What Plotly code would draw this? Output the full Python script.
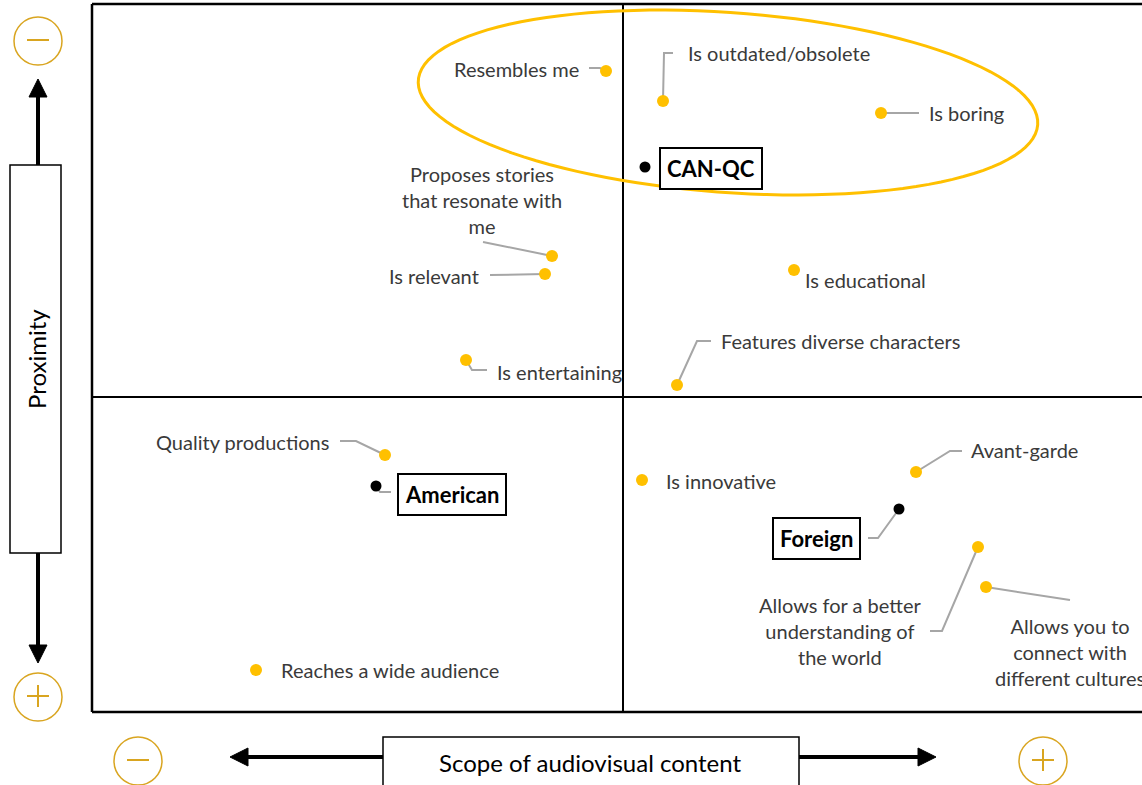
import numpy as np
import plotly.graph_objects as go

# attribute positions on the perceptual map (x: scope, y: proximity)
attributes = ["Resembles me", "Is outdated/obsolete", "Is boring",
              "Proposes stories<br>that resonate with<br>me", "Is relevant",
              "Is educational", "Is entertaining", "Features diverse characters",
              "Quality productions", "Is innovative", "Avant-garde",
              "Allows for a better<br>understanding of<br>the world",
              "Allows you to<br>connect with<br>different cultures",
              "Reaches a wide audience"]
attr_x = [-0.17, 0.40, 2.58, -0.71, -0.78, 1.71, -1.57, 0.54,
          -2.38, 0.19, 2.93, 3.55, 3.63, -3.67]
attr_y = [3.26, 2.96, 2.84, 1.41, 1.23, 1.27, 0.37, 0.12,
          -0.58, -0.83, -0.75, -1.50, -1.90, -2.73]

brands = ["CAN-QC", "American", "Foreign"]
brand_x = [0.22, -2.47, 2.76]
brand_y = [2.30, -0.89, -1.12]

# label placement (pixel offsets from the dot) and leader-line elbows
attr_label = [(-25, -2, "right"), (23, -48, "left"), (46, 0, "left"),
              (-70, -56, "center"), (-64, 2, "right"), (9, 10, "left"),
              (29, 12, "left"), (42, -44, "left"), (-54, -13, "right"),
              (22, 1, "left"), (53, -22, "left"), (-138, 84, "center"),
              (84, 65, "center"), (23, 0, "left")]
attr_leader = [[(-6, -3), (-17, -3)], [(1, -48), (10, -48)], [(38, 0)],
               [(-69, -14)], [(-55, 1)], [], [(6, 10), (21, 10)],
               [(20, -44), (34, -44)], [(-29, -14), (-45, -14)], [],
               [(34, -21), (46, -21)], [(-36, 84), (-48, 84)], [(84, 13)], []]
brand_label = [(66, 1), (76, 8), (-83, 29)]
brand_leader = [[], [(4, 6), (15, 6)], [(-21, 29), (-31, 29)]]

YELLOW = "#FFC000"
GOLD = "#D9A520"
GREY = "#A6A6A6"
FONT = "Lato"


def X(px):
    return (px - 623) / 100


def Y(py):
    return (397 - py) / 100


fig = go.Figure()

# frame and quadrant lines
for x0, y0, x1, y1 in [(92, 4, 1160, 4), (92, 712, 1160, 712), (92, 4, 92, 712),
                       (623, 4, 623, 712), (92, 397, 1160, 397)]:
    fig.add_shape(type="line", x0=X(x0), y0=Y(y0), x1=X(x1), y1=Y(y1),
                  line=dict(color="black", width=2.5 if x0 != 623 and y0 != 397 else 2))

# yellow ellipse around the CAN-QC cluster
t = np.linspace(0, 2 * np.pi, 120)
ang = np.deg2rad(4.1)
ex = 728 + 310.5 * np.cos(t) * np.cos(ang) - 90 * np.sin(t) * np.sin(ang)
ey = 102.5 + 310.5 * np.cos(t) * np.sin(ang) + 90 * np.sin(t) * np.cos(ang)
path = "M " + " L ".join(f"{X(a):.4f},{Y(b):.4f}" for a, b in zip(ex, ey)) + " Z"
fig.add_shape(type="path", path=path, line=dict(color=YELLOW, width=3))

# leader lines
for xs, ys, leaders in [(attr_x, attr_y, attr_leader), (brand_x, brand_y, brand_leader)]:
    for x, y, pts in zip(xs, ys, leaders):
        if not pts:
            continue
        lx = [x] + [x + dx / 100 for dx, dy in pts]
        ly = [y] + [y - dy / 100 for dx, dy in pts]
        fig.add_trace(go.Scatter(x=lx, y=ly, mode="lines", hoverinfo="skip",
                                 line=dict(color=GREY, width=2), showlegend=False))

fig.add_trace(go.Scatter(x=attr_x, y=attr_y, mode="markers", showlegend=False,
                         marker=dict(color=YELLOW, size=12), hovertext=attributes))
fig.add_trace(go.Scatter(x=brand_x, y=brand_y, mode="markers", showlegend=False,
                         marker=dict(color="black", size=11), hovertext=brands))

for name, x, y, (dx, dy, anchor) in zip(attributes, attr_x, attr_y, attr_label):
    fig.add_annotation(x=x + dx / 100, y=y - dy / 100, text=name, showarrow=False,
                       xanchor=anchor, yanchor="middle", align="center",
                       font=dict(family=FONT, size=20, color="#3A3A3A"))

for name, x, y, (dx, dy) in zip(brands, brand_x, brand_y, brand_label):
    fig.add_annotation(x=x + dx / 100, y=y - dy / 100, text=f"<b>{name}</b>",
                       showarrow=False, xanchor="center", yanchor="middle",
                       bgcolor="white", bordercolor="black", borderwidth=2, borderpad=6,
                       font=dict(family=FONT, size=22, color="black"))

# vertical "Proximity" axis decoration
fig.add_shape(type="line", x0=X(38), y0=Y(165), x1=X(38), y1=Y(96),
              line=dict(color="black", width=4))
fig.add_shape(type="line", x0=X(38), y0=Y(553), x1=X(38), y1=Y(646),
              line=dict(color="black", width=4))
fig.add_shape(type="path", fillcolor="black", line=dict(color="black", width=1),
              path=f"M {X(29)},{Y(97)} L {X(38)},{Y(79)} L {X(47)},{Y(97)} Z")
fig.add_shape(type="path", fillcolor="black", line=dict(color="black", width=1),
              path=f"M {X(29)},{Y(645)} L {X(38)},{Y(663)} L {X(47)},{Y(645)} Z")
fig.add_shape(type="rect", x0=X(10), y0=Y(165), x1=X(61), y1=Y(553),
              line=dict(color="black", width=1.5), fillcolor="white")
fig.add_annotation(x=X(36), y=Y(359), text="Proximity", textangle=-90, showarrow=False,
                   font=dict(family=FONT, size=24, color="black"))

# horizontal "Scope" axis decoration
fig.add_shape(type="line", x0=X(248), y0=Y(757), x1=X(383), y1=Y(757),
              line=dict(color="black", width=4))
fig.add_shape(type="line", x0=X(799), y0=Y(757), x1=X(918), y1=Y(757),
              line=dict(color="black", width=4))
fig.add_shape(type="path", fillcolor="black", line=dict(color="black", width=1),
              path=f"M {X(248)},{Y(748)} L {X(230)},{Y(757)} L {X(248)},{Y(766)} Z")
fig.add_shape(type="path", fillcolor="black", line=dict(color="black", width=1),
              path=f"M {X(918)},{Y(748)} L {X(936)},{Y(757)} L {X(918)},{Y(766)} Z")
fig.add_shape(type="rect", x0=X(383), y0=Y(737), x1=X(799), y1=Y(800),
              line=dict(color="black", width=1.5), fillcolor="white")
fig.add_annotation(x=X(590), y=Y(762), text="Scope of audiovisual content", showarrow=False,
                   font=dict(family=FONT, size=24, color="black"))

# minus / plus circles
for cx, cy, sign in [(38, 41, "-"), (38, 697, "+"), (138, 761, "-"), (1043, 761, "+")]:
    fig.add_shape(type="circle", x0=X(cx - 24), y0=Y(cy - 24), x1=X(cx + 24), y1=Y(cy + 24),
                  line=dict(color=GOLD, width=1.5))
    fig.add_shape(type="line", x0=X(cx - 11), y0=Y(cy - 1), x1=X(cx + 11), y1=Y(cy - 1),
                  line=dict(color=GOLD, width=2))
    if sign == "+":
        fig.add_shape(type="line", x0=X(cx), y0=Y(cy - 12), x1=X(cx), y1=Y(cy + 10),
                      line=dict(color=GOLD, width=2))

fig.update_layout(width=1142, height=785, margin=dict(l=0, r=0, t=0, b=0),
                  plot_bgcolor="white", paper_bgcolor="white", showlegend=False)
fig.update_xaxes(range=[X(0), X(1142)], visible=False, fixedrange=True)
fig.update_yaxes(range=[Y(785), Y(0)], visible=False, fixedrange=True)

# drop the default page margin so the figure sits at the window's corner
fig.write_html("out.html", config={"displayModeBar": False},
               post_script="document.body.style.margin='0px';")
